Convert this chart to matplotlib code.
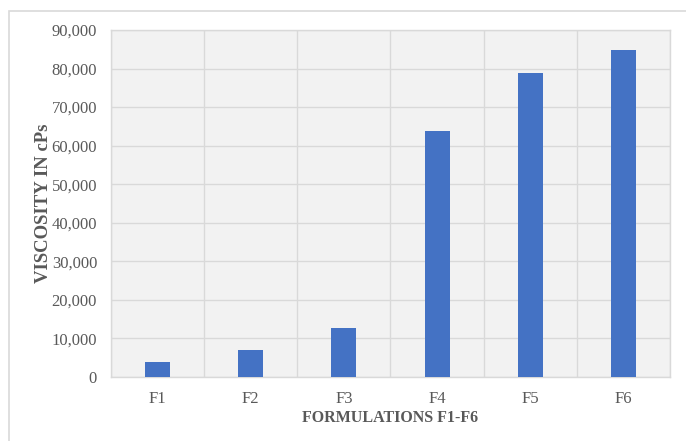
import matplotlib
matplotlib.use("Agg")
import matplotlib.pyplot as plt
from matplotlib.ticker import FuncFormatter, MultipleLocator
from matplotlib.patches import Rectangle

categories = ["F1", "F2", "F3", "F4", "F5", "F6"]
viscosity = [4000, 7000, 12800, 63800, 78800, 84700]

plt.rcParams['font.family'] = ['Liberation Serif', 'DejaVu Serif']

fig = plt.figure(figsize=(6.86, 4.41), dpi=100)
W, H = 686, 441
ax = fig.add_axes([111 / W, 1 - 377 / H, (670 - 111) / W, (377 - 30) / H])

# outer border (only top/left visible in reference)
fig.patches.append(Rectangle((9 / W, -0.1), 2, 1 - 11 / H + 0.1, transform=fig.transFigure,
                             fill=False, edgecolor='#d9d9d9', linewidth=1.2))

x = list(range(len(categories)))
ax.bar(x, viscosity, width=0.27, color='#4472c4', zorder=3)

ax.set_xlim(-0.5, len(categories) - 0.5)
ax.set_ylim(0, 90000)
ax.yaxis.set_major_locator(MultipleLocator(10000))
ax.yaxis.set_major_formatter(FuncFormatter(lambda v, p: f"{int(v):,}"))
ax.set_xticks(x)
ax.set_xticklabels(categories)
ax.set_xticks([i + 0.5 for i in range(-1, len(categories))], minor=True)

ax.set_facecolor('#f2f2f2')
ax.grid(True, axis='y', which='major', color='#d9d9d9', linewidth=1, zorder=0)
ax.grid(True, axis='x', which='minor', color='#d9d9d9', linewidth=1, zorder=0)
ax.grid(False, axis='x', which='major')
for s in ax.spines.values():
    s.set_color('#d9d9d9')
    s.set_linewidth(1)

ax.tick_params(axis='both', which='both', length=0, labelsize=12, colors='#595959')
ax.tick_params(axis='x', pad=10)
ax.tick_params(axis='y', pad=10)

ax.set_xlabel("FORMULATIONS F1-F6", fontsize=11.5, fontweight='bold', color='#595959', labelpad=2)
ax.set_ylabel("VISCOSITY IN cPs", fontsize=13.5, fontweight='bold', color='#595959', labelpad=0)

fig.savefig("out.png", dpi=100)
